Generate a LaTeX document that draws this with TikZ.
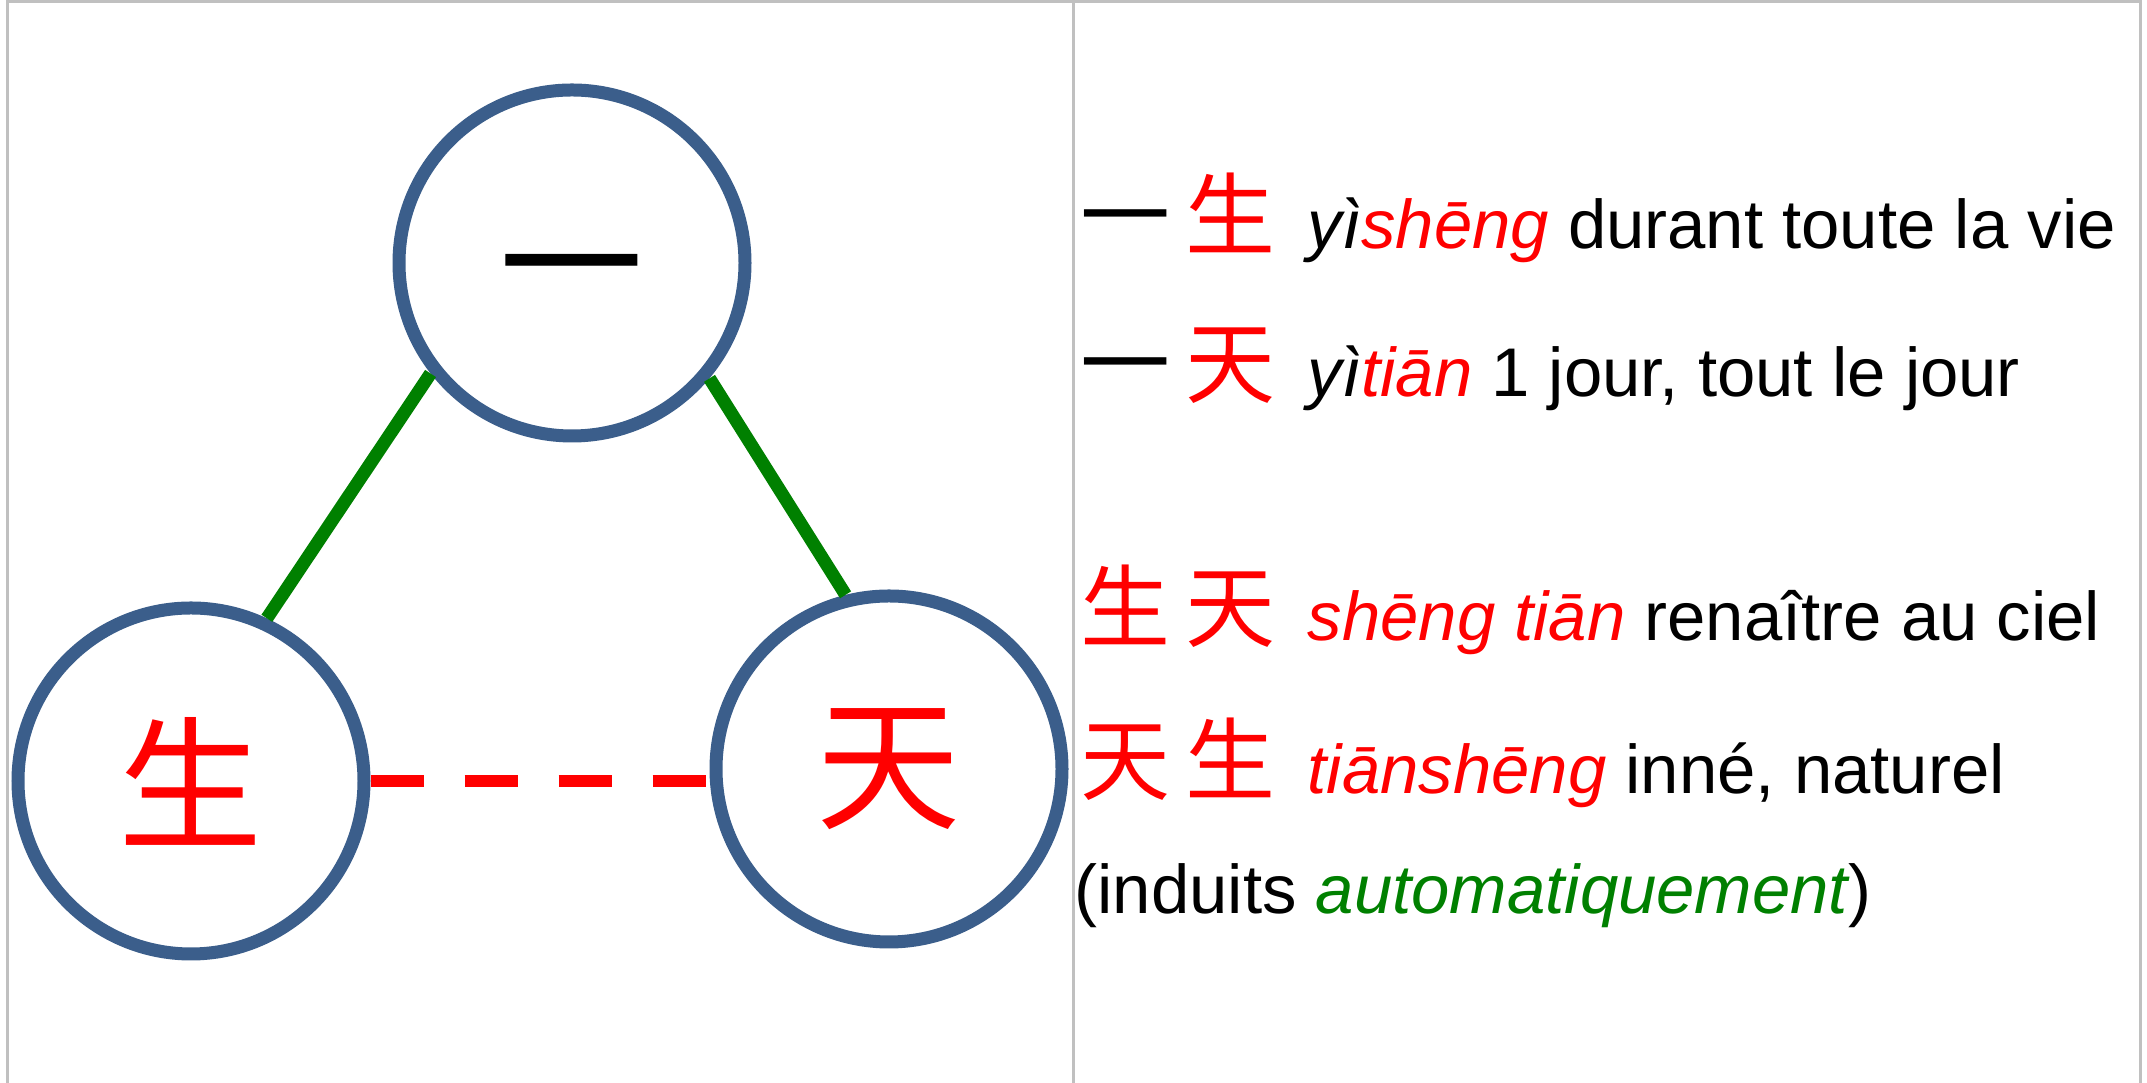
\documentclass[tikz,border=0pt]{standalone}
\usepackage{fontspec}
\setmainfont{Liberation Sans}
\newfontfamily\cjk{Noto Sans CJK SC}
\usepackage{xcolor}
\definecolor{ringBlue}{HTML}{3B5E8B}
\definecolor{linkGreen}{HTML}{008000}
\definecolor{frameGray}{HTML}{C0C0C0}
\usepackage{tikz}
\usetikzlibrary{positioning,calc}
\newcommand{\zi}[1]{\makebox[1.05cm][l]{\fontsize{25.6}{26}\cjk #1}}
\tikzset{
  charCircle/.style={
    circle,
    draw=ringBlue,
    line width=0.13cm,
    minimum size=3.46cm,
    inner sep=0pt,
    font=\fontsize{41}{41}\selectfont\cjk
 },
  linkLine/.style={
    line width=0.13cm,
    color=linkGreen
 },
  dashLine/.style={
    line width=0.12cm,
    color=red,
    dash pattern=on 0.53cm off 0.41cm
 },
  textLine/.style={
    anchor=base west,
    inner sep=0pt,
    font=\fontsize{19.6}{23}\selectfont
 },
  frameLine/.style={
    line width=0.03cm,
    color=frameGray
 }
}
\begin{document}
\begin{tikzpicture}[node distance=3cm]
            \useasboundingbox (0,0) rectangle (21.47,10.83);
            \draw[frameLine] (0.075,0) -- (0.075,10.81) -- (21.40,10.81) -- (21.40,0);
            \draw[frameLine] (10.73,0) -- (10.73,10.81);

            \node[charCircle] (yi) at (5.72,8.20) {\raisebox{-0.22cm}[\height][\depth]{一}};
            \node[charCircle, text=red, on grid, below left=5.18cm and 3.81cm of yi] (sheng) {生};
            \node[charCircle, text=red, on grid, below right=5.06cm and 3.17cm of yi] (tian) {天};

            \draw[linkLine] (sheng.65.7) -- (yi.218);
            \draw[linkLine] (yi.-40.4) -- (tian.104.3);
            \draw[dashLine] (sheng.east) -- (sheng.east -| tian.west);

            % word list on the right
            \node[textLine] (ciA) at (10.80,8.34) {\zi{一}\textcolor{red}{\zi{生}}\hspace{0.17cm}\textit{yì\textcolor{red}{shēng}} durant toute la vie};
            \node[textLine] (ciB) at (10.80,6.86) {\zi{一}\textcolor{red}{\zi{天}}\hspace{0.17cm}\textit{yì\textcolor{red}{tiān}} 1 jour, tout le jour};
            \node[textLine] (ciC) at (10.80,4.42) {\textcolor{red}{\zi{生}\zi{天}}\hspace{0.17cm}\textit{\textcolor{red}{shēng tiān}} renaître au ciel};
            \node[textLine] (ciD) at (10.80,2.89) {\textcolor{red}{\zi{天}\zi{生}}\hspace{0.17cm}\textit{\textcolor{red}{tiānshēng}} inné, naturel};
            \node[textLine] (note) at (10.74,1.69) {(induits \textit{\textcolor{linkGreen}{automatiquement}})};

        \end{tikzpicture}
\end{document}
